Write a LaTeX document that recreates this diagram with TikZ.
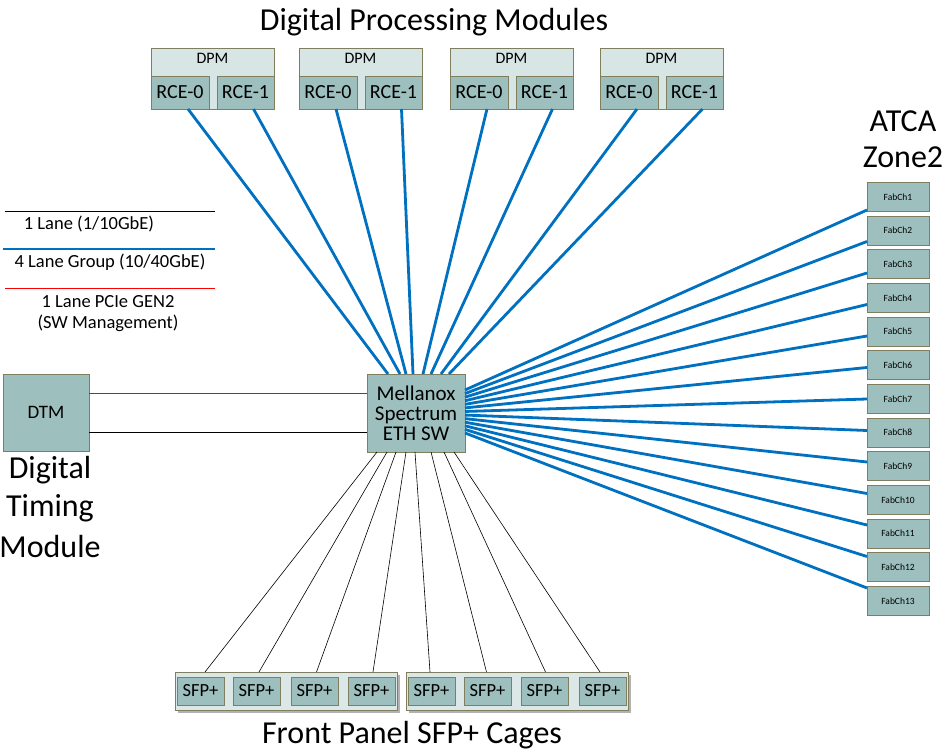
\documentclass[tikz,border=0pt]{standalone}
\usepackage{fontspec}
\setmainfont{Carlito}
\definecolor{boxfill}{HTML}{9DBFBE}
\definecolor{boxline}{HTML}{7F7F5F}
\definecolor{hdrfill}{HTML}{D7E5E5}
\definecolor{grpfill}{HTML}{DCE8E8}
\definecolor{lnblue}{HTML}{0070C0}
\begin{document}
\begin{tikzpicture}[x=1pt,y=-1pt,
  box/.style={draw=boxline,fill=boxfill,line width=0.9pt,inner sep=0pt,outer sep=0pt},
  hdr/.style={draw=boxline,fill=hdrfill,line width=0.9pt,inner sep=0pt,outer sep=0pt},
  blue4/.style={draw=lnblue,line width=2.8pt},
  thin1/.style={draw=black,line width=0.6pt},
  pcie/.style={draw=red,line width=0.8pt},
  title/.style={font=\fontsize{32}{34}\selectfont,inner sep=0pt},
  legend/.style={font=\fontsize{18.5}{20}\selectfont,inner sep=0pt}]
\useasboundingbox (0,0) rectangle (946,754);
\fill[white] (0,0) rectangle (946,754);

% ---- titles
\node[title] (t1) at (434,22) {Digital Processing Modules};
\node[title] (t2) at (903,121) {ATCA};
\node[title] (t3) at (903,157) {Zone2};
\node[title] (t4) at (50,470) {Digital};
\node[title] (t5) at (50,508) {Timing};
\node[title] (t6) at (50,547) {Module};
\node[title] (t7) at (412,735) {Front Panel SFP+ Cages};

% ---- legend
\coordinate (l1a) at (5,211); \coordinate (l1b) at (215,211);
\draw[thin1] (l1a) -- (l1b);
\node[legend] (lt1) at (89,224) {1 Lane (1/10GbE)};
\coordinate (l2a) at (3,249); \coordinate (l2b) at (215,249);
\draw[blue4] (l2a) -- (l2b);
\node[legend] (lt2) at (110,262) {4 Lane Group (10/40GbE)};
\coordinate (l3a) at (5,288); \coordinate (l3b) at (215,288);
\draw[pcie] (l3a) -- (l3b);
\node[legend] (lt3) at (108,302) {1 Lane PCIe GEN2};
\node[legend] (lt4) at (108,323) {(SW Management)};

% ---- DPMs
\foreach \i/\x in {1/151,2/299,3/450,4/600}{
  \node[hdr,minimum width=123pt,minimum height=61pt,anchor=north west] (dpm\i) at (\x,48) {};
  \node[font=\fontsize{16}{17}\selectfont,inner sep=0pt] (dpml\i) at (\x+61.5,58) {DPM};
  \node[box,minimum width=58pt,minimum height=33pt,anchor=north west,
        font=\fontsize{20}{22}\selectfont] (rceA\i) at (\x,76) {RCE-0};
  \node[box,minimum width=57pt,minimum height=33pt,anchor=north east,
        font=\fontsize{20}{22}\selectfont] (rceB\i) at (\x+123,76) {RCE-1};
}

% ---- switch
\node[box,minimum width=98pt,minimum height=78pt,align=center,
      font=\fontsize{21}{20}\selectfont] (sw) at (416,413) {Mellanox\\Spectrum\\ETH SW};

% ---- DTM
\node[box,minimum width=86pt,minimum height=77pt,
      font=\fontsize{19}{21}\selectfont] (dtm) at (46,412.5) {DTM};
\draw[pcie] ([yshift=-19pt]dtm.north east) -- ([yshift=-19pt]sw.north west);
\draw[thin1] ([yshift=-58pt]dtm.north east) -- ([yshift=-58pt]sw.north west);

% ---- top blue lines
\foreach \n/\off in {rceA1/21,rceB1/33,rceA2/39,rceB2/46,rceA3/56,rceB3/64,rceA4/74,rceB4/82}{
  \draw[blue4] ([xshift=8pt]\n.south) -- ([xshift=\off pt]sw.north west);
}

% ---- fabric channels
\foreach \i in {1,...,13}{
  \pgfmathsetmacro{\fy}{197+(\i-1)*33.67}
  \pgfmathsetmacro{\sa}{-16-(\i-1)*3.58}
  \pgfmathsetmacro{\sb}{-13+(\i-1)*2.17}
  \node[box,minimum width=62pt,minimum height=29pt,
        font=\fontsize{9.5}{11}\selectfont] (fab\i) at (898,\fy) {FabCh\i};
  \draw[blue4] ([yshift=\sa pt]sw.north east) -- ([yshift=\sb pt]fab\i.west);
}

% ---- SFP groups
\foreach \g/\x in {1/175,2/406}{
  \fill[gray!60] (\x+3,675) rectangle (\x+225,713);
  \node[draw=boxline,fill=grpfill,line width=0.9pt,minimum width=222pt,minimum height=38pt,
        anchor=north west,inner sep=0pt] (grp\g) at (\x,672) {};
}
\foreach \i/\x in {1/177,2/233,3/291,4/348,5/408,6/464,7/521,8/579}{
  \node[box,minimum width=47pt,minimum height=28pt,anchor=north west,
        font=\fontsize{18.5}{20}\selectfont] (sfp\i) at (\x,677) {SFP+};
}
\foreach \i/\off/\dx in {1/10/4.5,2/20/2.5,3/29/2,4/39/1.5,5/48/-1.5,6/64/-1,7/77/1,8/87/-2.5}{
  \draw[thin1] ([xshift=\off pt]sw.south west) -- ([xshift=\dx pt,yshift=5pt]sfp\i.north);
}
\end{tikzpicture}
\end{document}
